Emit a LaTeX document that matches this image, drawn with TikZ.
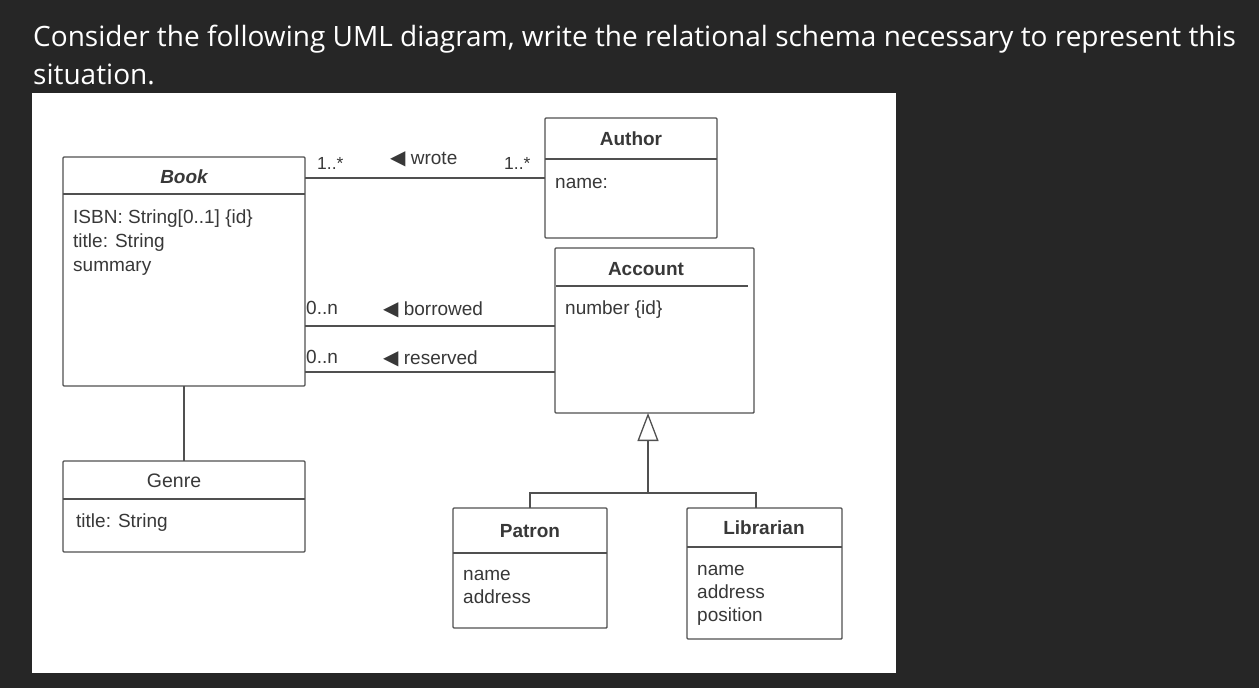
\documentclass[tikz,border=0pt]{standalone}
\usepackage{fontspec}
\setmainfont{Liberation Sans}
\newfontfamily\titlefont{Open Sans}
\newfontfamily\symfont{DejaVu Sans}
\newcommand\trisym{{\symfont\fontsize{20}{22}\selectfont ◀}}
\usetikzlibrary{arrows.meta}
\definecolor{bg}{HTML}{262626}
\definecolor{ln}{HTML}{505050}
\definecolor{tx}{HTML}{383838}
\begin{document}
\begin{tikzpicture}[x=1pt,y=-1pt,
  box/.style={draw=ln, line width=1.4pt, rounded corners=1pt, inner sep=0pt, outer sep=0pt, anchor=north west, fill=white},
  conn/.style={draw=ln, line width=1.3pt},
  divider/.style={draw=ln, line width=1.3pt},
  attr/.style={text=tx, font=\fontsize{19}{22}\selectfont, inner sep=0pt, anchor=base west},
  cname/.style={text=tx, font=\bfseries\fontsize{19}{22}\selectfont, inner sep=0pt, anchor=base},
  mult/.style={text=tx, font=\fontsize{17.5}{20}\selectfont, inner sep=0pt, anchor=base west},
  title/.style={text=white, font=\titlefont\fontsize{28}{32}\selectfont, inner sep=0pt, anchor=base west}
]
\fill[bg] (0,0) rectangle (1259,688);
\useasboundingbox (0,0) rectangle (1259,688);
\fill[white] (32,93) rectangle (896,673);

\node[title] (t1) at (33,46) {Consider the following UML diagram, write the relational schema necessary to represent this};
\node[title] (t2) at (33,84) {situation.};

% boxes
\node[box, minimum width=242pt, minimum height=229pt] (book) at (63,157) {};
\node[box, minimum width=242pt, minimum height=91pt] (genre) at (63,461) {};
\node[box, minimum width=172pt, minimum height=120pt] (author) at (545,118) {};
\node[box, minimum width=199pt, minimum height=165pt] (account) at (555,248) {};
\node[box, minimum width=154pt, minimum height=120pt] (patron) at (453,508) {};
\node[box, minimum width=155pt, minimum height=131pt] (librarian) at (687,508) {};

% dividers
\draw[divider] (63,194) -- (305,194);
\draw[divider] (63,499) -- (305,499);
\draw[divider] (545,159) -- (717,159);
\draw[divider] (556,286) -- (748,286);
\draw[divider] (453,553) -- (607,553);
\draw[divider] (687,547) -- (842,547);

% class names
\node[cname, font=\bfseries\itshape\fontsize{19}{22}\selectfont] (bookname) at (184,183) {Book};
\node[cname] (authorname) at (631,145) {Author};
\node[cname] (accountname) at (646,275) {Account};
\node[cname] (patronname) at (530,537) {Patron};
\node[cname] (libname) at (764,534) {Librarian};
\node[text=tx, font=\fontsize{19.5}{22}\selectfont, inner sep=0pt, anchor=base] (genrename) at (174,487) {Genre};

% attributes
\node[attr] (b1) at (73,223) {ISBN: String[0..1] \{id\}};
\node[attr] (b2) at (73,247) {title: String};
\node[attr] (b3) at (73,271) {summary};
\node[attr] (g1) at (76,527) {title: String};
\node[attr] (a1) at (555,188) {name:};
\node[attr] (ac1) at (565,314) {number \{id\}};
\node[attr] (p1) at (463,580) {name};
\node[attr] (p2) at (463,603) {address};
\node[attr] (l1) at (697,575) {name};
\node[attr] (l2) at (697,598) {address};
\node[attr] (l3) at (697,621) {position};

% connectors
\coordinate (wy) at (0,178);
\coordinate (by) at (0,326);
\coordinate (ry) at (0,372);
\draw[conn] (book.east |- wy) -- (author.west |- wy);
\draw[conn] (book.east |- by) -- (account.west |- by);
\draw[conn] (book.east |- ry) -- (account.west |- ry);
\draw[conn] (book.south) -- (genre.north);

% association labels
\node[mult] (m1) at (317,169) {1..*};
\node[mult] (m2) at (504,169) {1..*};
\node[attr] (wl) at (390,164) {\trisym\ wrote};
\node[attr] (m3) at (306,314) {0..n};
\node[attr] (bl) at (383,315) {\trisym\ borrowed};
\node[attr] (m4) at (306,363) {0..n};
\node[attr] (rl) at (383,364) {\trisym\ reserved};

% generalization
\coordinate (gj) at (648,493);
\coordinate (gt) at (648,413);
\coordinate (lt) at (756,508);
\draw[conn] (patron.north) -- ++(0,-15) -| (lt);
\draw[conn, -{Triangle[fill=white, length=28pt, width=21pt]}] (gj) -- (gt);
\end{tikzpicture}
\end{document}
